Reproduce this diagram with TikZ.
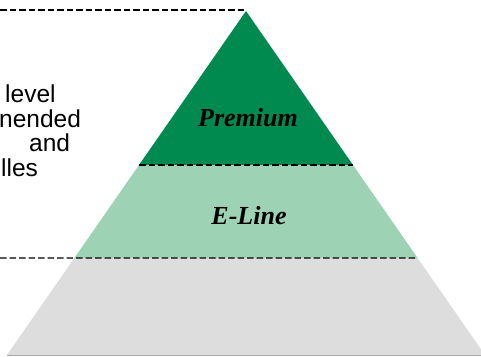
\documentclass[tikz,border=0pt]{standalone}
\usepackage{fontspec}
\setmainfont{Liberation Serif}
\setsansfont{Liberation Sans}
\usetikzlibrary{calc}

\definecolor{premgreen}{RGB}{0,138,80}
\definecolor{elinegreen}{RGB}{157,210,180}
\definecolor{basegrey}{RGB}{221,221,221}
\definecolor{edgegrey}{RGB}{166,166,166}

\begin{document}
\begin{tikzpicture}[x=1pt,y=-1pt,
    tierline/.style={dash pattern=on 6.5pt off 3pt, line width=1.4pt},
    tiername/.style={font=\fontsize{26}{30}\selectfont\bfseries\itshape, anchor=base},
    sidetext/.style={font=\sffamily\fontsize{24.5}{28}\selectfont, anchor=base west, inner sep=0pt}]
      \useasboundingbox (0,0) rectangle (481,356);
      \clip (0,0) rectangle (481,356);
      % pyramid corners
      \coordinate (apex) at (246,11);
      \coordinate (bl) at (7,355);
      \coordinate (br) at (485,355);
      \coordinate (p1l) at ($(apex)!0.4477!(bl)$);
      \coordinate (p1r) at ($(apex)!0.4477!(br)$);
      \coordinate (p2l) at ($(apex)!0.718!(bl)$);
      \coordinate (p2r) at ($(apex)!0.718!(br)$);
      % tiers
      \fill[premgreen] (apex) -- (p1l) -- (p1r) -- cycle;
      \fill[elinegreen] (p1l) -- (p2l) -- (p2r) -- (p1r) -- cycle;
      \fill[basegrey] (p2l) -- (bl) -- (br) -- (p2r) -- cycle;
      \draw[edgegrey, line width=1pt] (bl) -- (br);
      % dashed levels
      \coordinate (top0) at (0,10);
      \coordinate (mid0) at (0,258);
      \draw[tierline] (top0) -- (top0 -| apex);
      \draw[tierline] (p1l) -- (p1r);
      \draw[tierline] (mid0) -- (p2r);
      % labels
      \node[tiername] (prem) at (248,126) {Premium};
      \node[tiername] (eline) at (249,224) {E-Line};
      \node[sidetext] (s1) at (5,102) {level};
      \node[sidetext] (s2) at (-1,127) {nended};
      \node[sidetext] (s3) at (29,151) {and};
      \node[sidetext] (s4) at (1,176) {lles};
    \end{tikzpicture}
\end{document}
